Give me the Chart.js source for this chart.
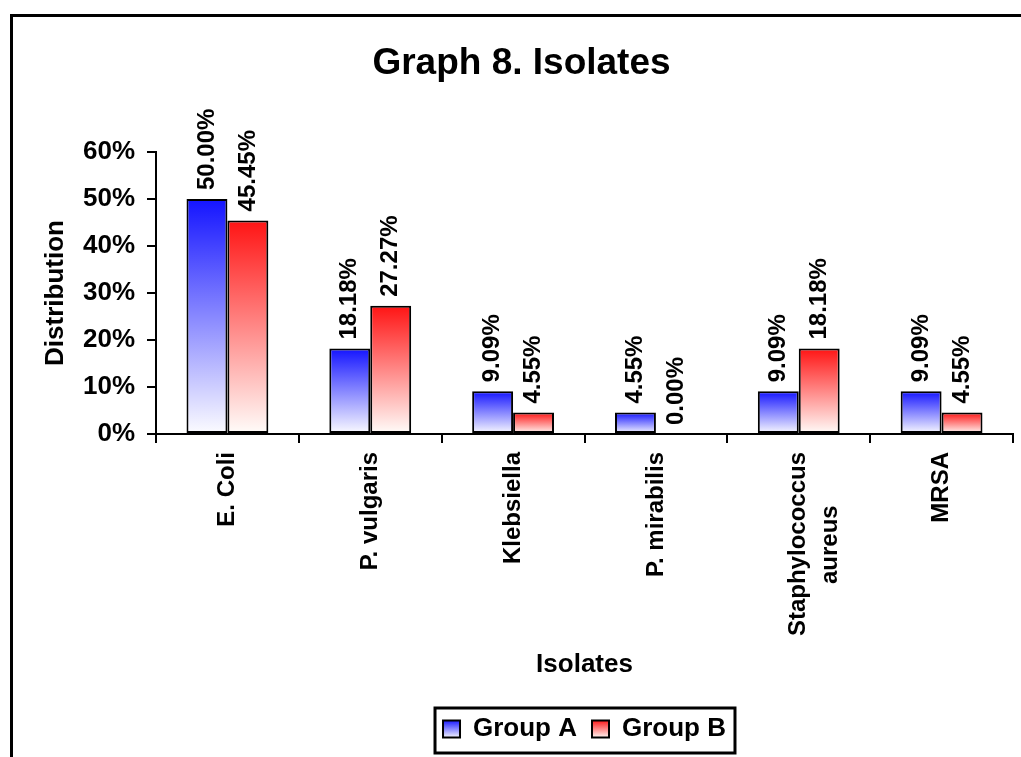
<!DOCTYPE html>
<html>
<head>
<meta charset="utf-8">
<script src="https://cdn.jsdelivr.net/npm/chart.js@4/dist/chart.umd.min.js"></script>
<style>
  html, body { margin: 0; padding: 0; background: #ffffff; }
  canvas { display: block; }
</style>
</head>
<body>
<canvas id="c" width="1021" height="757"></canvas>
<script>
const categories = ['E. Coli', 'P. vulgaris', 'Klebsiella', 'P. mirabilis', ['Staphylococcus', 'aureus        '], 'MRSA'];
const seriesNames = ['Group A', 'Group B'];
const groupA = [50.00, 18.18, 9.09, 4.55, 9.09, 9.09];
const groupB = [45.45, 27.27, 4.55, 0.00, 18.18, 4.55];
const yTicks = [0, 10, 20, 30, 40, 50, 60];

const FONT = '"Liberation Sans", Arial, Helvetica, sans-serif';
const palettes = [
  { top: 'rgb(20,20,255)', bottom: 'rgb(252,252,255)', solid: 'rgb(140,140,255)' },
  { top: 'rgb(255,20,20)', bottom: 'rgb(255,253,250)', solid: 'rgb(255,140,140)' }
];

function barGradient(ctx) {
  const pal = palettes[ctx.datasetIndex];
  const chart = ctx.chart;
  if (!chart.chartArea || ctx.type !== 'data' || !chart.scales.y) return pal.solid;
  const ys = chart.scales.y;
  const top = ys.getPixelForValue(ctx.raw);
  const base = ys.getPixelForValue(0);
  if (base - top < 1) return pal.solid;
  const g = chart.ctx.createLinearGradient(0, top, 0, base);
  g.addColorStop(0, pal.top);
  g.addColorStop(1, pal.bottom);
  return g;
}

const framePlugin = {
  id: 'frame',
  beforeDraw(chart) {
    const c = chart.ctx;
    c.save();
    c.fillStyle = '#ffffff';
    c.fillRect(0, 0, chart.width, chart.height);
    c.strokeStyle = '#000000';
    c.lineWidth = 3;
    c.strokeRect(11.5, 15.5, chart.width + 20, chart.height + 20);
    c.restore();
    const lg = chart.legend;
    if (lg && lg.legendHitBoxes && lg.legendItems) {
      lg.legendItems.forEach((item, i) => {
        const hb = lg.legendHitBoxes[i];
        if (!hb) return;
        const pal = palettes[i];
        const g = c.createLinearGradient(0, hb.top + 4, 0, hb.top + hb.height - 4);
        g.addColorStop(0, pal.top);
        g.addColorStop(1, pal.bottom);
        item.fillStyle = g;
      });
    }
  },
  afterDraw(chart) {
    const lg = chart.legend;
    if (!lg || !lg.legendHitBoxes || !lg.legendHitBoxes.length) return;
    const hbs = lg.legendHitBoxes;
    const first = hbs[0], last = hbs[hbs.length - 1];
    const c = chart.ctx;
    c.save();
    c.strokeStyle = '#000000';
    c.lineWidth = 3;
    const l = first.left - 8, t = first.top - 8;
    const r = last.left + last.width + 9, b = first.top + first.height + 11;
    c.strokeRect(l, t, r - l, b - t);
    c.restore();
  }
};

const valueLabels = {
  id: 'valueLabels',
  afterDatasetsDraw(chart) {
    const c = chart.ctx;
    c.save();
    c.font = 'bold 24px ' + FONT;
    c.fillStyle = '#000000';
    c.textAlign = 'left';
    c.textBaseline = 'middle';
    chart.data.datasets.forEach((ds, di) => {
      const meta = chart.getDatasetMeta(di);
      meta.data.forEach((el, i) => {
        const v = ds.data[i];
        c.save();
        c.translate(el.x, el.y - 9);
        c.rotate(-Math.PI / 2);
        c.fillText(v.toFixed(2) + '%', 0, 0);
        c.restore();
      });
    });
    c.restore();
  }
};

new Chart(document.getElementById('c'), {
  type: 'bar',
  data: {
    labels: categories,
    datasets: [
      { label: seriesNames[0], data: groupA, backgroundColor: barGradient, borderColor: '#000000', borderWidth: 2, borderSkipped: false },
      { label: seriesNames[1], data: groupB, backgroundColor: barGradient, borderColor: '#000000', borderWidth: 2, borderSkipped: false }
    ]
  },
  options: {
    responsive: false,
    animation: false,
    devicePixelRatio: 1,
    layout: { padding: { left: 30, right: 8, top: 0, bottom: 5 } },
    datasets: { bar: { categoryPercentage: 0.573, barPercentage: 1.0 } },
    plugins: {
      title: {
        display: true,
        text: 'Graph 8. Isolates',
        color: '#000000',
        font: { family: FONT, size: 37, weight: 'bold', lineHeight: 1.2 },
        padding: { top: 42, bottom: 65.6 }
      },
      legend: {
        display: true,
        position: 'bottom',
        fullSize: false,
        labels: {
          color: '#000000',
          font: { family: FONT, size: 26, weight: 'bold' },
          boxWidth: 17,
          boxHeight: 17,
          padding: 15
        }
      },
      tooltip: { enabled: false }
    },
    scales: {
      x: {
        afterFit(scale) { scale.height = 267; },
        grid: { display: true, drawOnChartArea: false, drawTicks: true, tickLength: 9, color: '#000000', lineWidth: 2, offset: true },
        border: { display: true, color: '#000000', width: 2 },
        ticks: {
          color: '#000000',
          font: { family: FONT, size: 24, weight: 'bold', lineHeight: 1.33 },
          minRotation: 90, maxRotation: 90, autoSkip: false, padding: 9
        },
        title: {
          display: true, text: 'Isolates', color: '#000000',
          font: { family: FONT, size: 26, weight: 'bold', lineHeight: 1.2 },
          padding: { top: 0, bottom: 21 }
        }
      },
      y: {
        min: 0, max: 60,
        afterFit(scale) { scale.width = 126; },
        afterBuildTicks(scale) { scale.ticks = yTicks.map(v => ({ value: v })); },
        grid: { display: true, drawOnChartArea: false, drawTicks: true, tickLength: 9, color: '#000000', lineWidth: 2 },
        border: { display: true, color: '#000000', width: 2 },
        ticks: {
          color: '#000000',
          font: { family: FONT, size: 26, weight: 'bold' },
          padding: 12,
          callback: (v) => v + '%'
        },
        title: {
          display: true, text: 'Distribution', color: '#000000',
          font: { family: FONT, size: 26, weight: 'bold', lineHeight: 1.2 },
          padding: { top: 10, bottom: 0 }
        }
      }
    }
  },
  plugins: [framePlugin, valueLabels]
});
</script>
</body>
</html>
